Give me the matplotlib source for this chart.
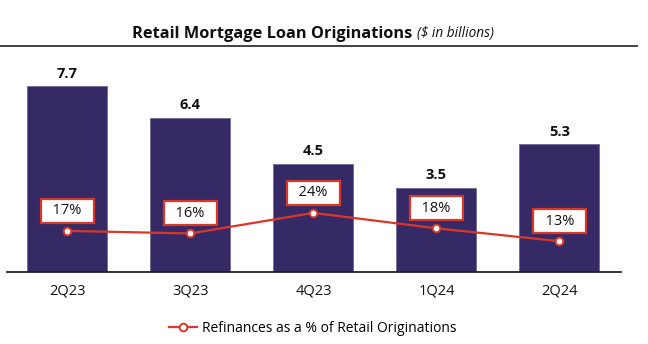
import matplotlib
matplotlib.use("Agg")
import matplotlib.pyplot as plt
from matplotlib.lines import Line2D

plt.rcParams['font.family'] = ['Open Sans', 'DejaVu Sans']

quarters = ["2Q23", "3Q23", "4Q23", "1Q24", "2Q24"]
originations = [7.7, 6.4, 4.5, 3.5, 5.3]
refi_pct = [17, 16, 24, 18, 13]

BAR_COLOR = "#352a66"
LINE_COLOR = "#d9372a"

W, H = 648, 344
fig = plt.figure(figsize=(W / 100, H / 100), dpi=100)

# axes placement in pixels: left, right, top, bottom
left, right, top, bottom = 7, 621, 50, 272
ax = fig.add_axes([left / W, 1 - bottom / H, (right - left) / W, (bottom - top) / H])

x = list(range(len(quarters)))
ax.bar(x, originations, width=0.65, color=BAR_COLOR, edgecolor="#6e6896", linewidth=0.6, zorder=2)
ax.set_xlim(-0.49, 4.5)
ax.set_ylim(0, 9.21)

for xi, v in zip(x, originations):
    ax.annotate(f"{v:.1f}", (xi, v), xytext=(0, 4), textcoords="offset points",
                ha="center", va="bottom", fontsize=10.5, fontweight="bold", color="#111111")

for s in ["left", "right", "top"]:
    ax.spines[s].set_visible(False)
ax.spines["bottom"].set_color("#222222")
ax.spines["bottom"].set_linewidth(1.3)
ax.set_yticks([])
ax.set_xticks(x)
ax.set_xticklabels(quarters, fontsize=10.5, color="#111111")
ax.tick_params(axis="x", length=0, pad=8)

# refinance share on a secondary scale
ax2 = ax.twinx()
ax2.set_ylim(1, 87.4)
ax2.set_yticks([])
for s in ["left", "right", "top", "bottom"]:
    ax2.spines[s].set_visible(False)
ax2.plot(x, refi_pct, color=LINE_COLOR, linewidth=1.6, marker="o", markersize=5.5,
         markerfacecolor="white", markeredgecolor=LINE_COLOR, markeredgewidth=1.4, zorder=3)
for xi, v in zip(x, refi_pct):
    ax2.annotate(f"  {v}%  ", (xi, v), xytext=(0, 14.5), textcoords="offset points",
                 ha="center", va="center", fontsize=10.5, color="#111111",
                 bbox=dict(boxstyle="square,pad=0.3", facecolor="white",
                           edgecolor=LINE_COLOR, linewidth=1.6))

# title: bold main text followed by italic unit note
fig.text(412 / W, 1 - 34 / H, "Retail Mortgage Loan Originations", ha="right", va="center",
         fontsize=11.8, fontweight="bold", color="#111111")
fig.text(417 / W, 1 - 34 / H, "($ in billions)", ha="left", va="center",
         fontsize=9.8, style="italic", color="#111111")
fig.add_artist(Line2D([0, 637 / W], [1 - 46 / H, 1 - 46 / H], color="#333333", linewidth=1.3))

handle = Line2D([], [], color=LINE_COLOR, linewidth=1.6, marker="o", markersize=5.5,
                markerfacecolor="white", markeredgecolor=LINE_COLOR, markeredgewidth=1.4)
fig.legend([handle], ["Refinances as a % of Retail Originations"], loc="center",
           bbox_to_anchor=(313 / W, 1 - 328 / H), frameon=False, fontsize=10,
           handlelength=2.0, handletextpad=0.4)

fig.savefig("out.png", dpi=100)
